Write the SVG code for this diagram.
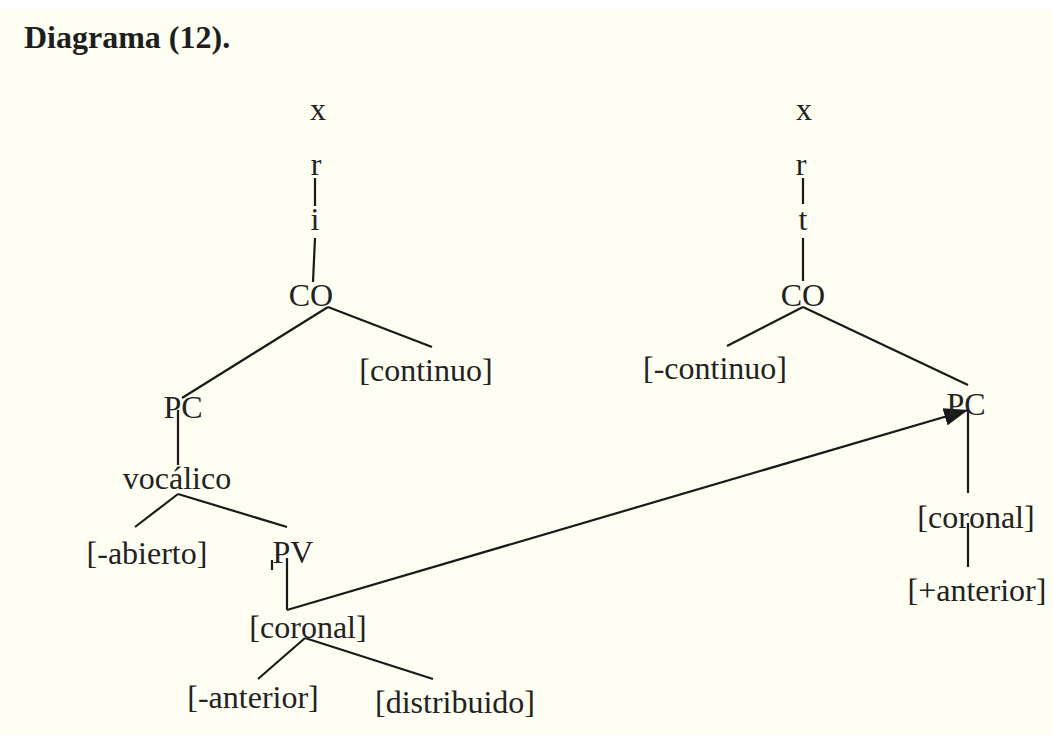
<svg xmlns="http://www.w3.org/2000/svg" width="1053" height="735" viewBox="0 0 1053 735">
<defs>
<style>
.t{font-family:"Liberation Serif","Times New Roman",serif;font-size:32px;fill:#222;text-anchor:middle}
.title{font-family:"Liberation Serif","Times New Roman",serif;font-size:32px;font-weight:bold;fill:#1e1e1e}
.c line,.c path{stroke:#1a1a1a;stroke-width:2.2;fill:none}
</style>
<marker id="ah" markerUnits="userSpaceOnUse" markerWidth="26" markerHeight="18" refX="24" refY="9" orient="auto">
<path d="M0,0 L24,9 L0,18 Z" fill="#1a1a1a"/>
</marker>
</defs>
<rect width="1053" height="735" fill="#fffef3"/>
<rect width="1053" height="9" fill="#ffffff"/>
<text class="title" x="24" y="48">Diagrama (12).</text>
<g class="c" id="connectors">
<line x1="315" y1="178" x2="315" y2="206"/>
<line x1="315" y1="238" x2="313" y2="282"/>
<line x1="328" y1="307" x2="432" y2="347"/>
<line x1="328" y1="307" x2="182" y2="398"/>
<line x1="178" y1="410" x2="178" y2="465"/>
<line x1="178" y1="494" x2="135" y2="527"/>
<line x1="178" y1="494" x2="287" y2="527"/>
<line x1="272" y1="560" x2="272" y2="570"/>
<line x1="287" y1="558" x2="287" y2="610"/>
<line x1="305" y1="638" x2="258" y2="679"/>
<line x1="305" y1="638" x2="433" y2="679"/>
<line x1="803" y1="178" x2="803" y2="204"/>
<line x1="803" y1="238" x2="803" y2="281"/>
<line x1="803" y1="307" x2="727" y2="346"/>
<line x1="803" y1="307" x2="968" y2="385"/>
<line x1="968" y1="410" x2="968" y2="493"/>
<line x1="968" y1="523" x2="968" y2="567"/>
<path d="M287,610 L968,410" marker-end="url(#ah)"/>
</g>
<g id="n-x1"><text class="t" x="318" y="120">x</text></g>
<g id="n-r1"><text class="t" x="316" y="175">r</text></g>
<g id="n-i"><text class="t" x="315" y="230">i</text></g>
<g id="n-co1"><text class="t" x="311" y="306">CO</text></g>
<g id="n-continuo"><text class="t" x="426" y="381">[continuo]</text></g>
<g id="n-pc1"><text class="t" x="183" y="418">PC</text></g>
<g id="n-vocalico"><text class="t" x="177" y="489">vocálico</text></g>
<g id="n-abierto"><text class="t" x="147" y="564">[-abierto]</text></g>
<g id="n-pv"><text class="t" x="293" y="563">PV</text></g>
<g id="n-coronal1"><text class="t" x="308" y="638">[coronal]</text></g>
<g id="n-anterior1"><text class="t" x="253" y="708">[-anterior]</text></g>
<g id="n-distribuido"><text class="t" x="455" y="713">[distribuido]</text></g>
<g id="n-x2"><text class="t" x="804" y="120">x</text></g>
<g id="n-r2"><text class="t" x="801" y="175">r</text></g>
<g id="n-t"><text class="t" x="803" y="230">t</text></g>
<g id="n-co2"><text class="t" x="803" y="306">CO</text></g>
<g id="n-mcontinuo"><text class="t" x="715" y="379">[-continuo]</text></g>
<g id="n-pc2"><text class="t" x="966" y="415">PC</text></g>
<g id="n-coronal2"><text class="t" x="976" y="528">[coronal]</text></g>
<g id="n-anterior2"><text class="t" x="977" y="601">[+anterior]</text></g>
</svg>
